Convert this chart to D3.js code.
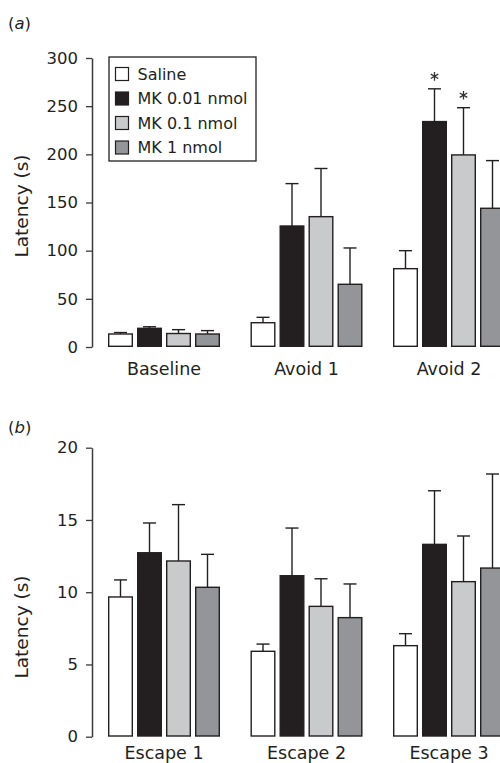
<!DOCTYPE html>
<html>
<head>
<meta charset="utf-8">
<script src="https://cdn.jsdelivr.net/npm/d3@7"></script>
<style>
  html, body { margin: 0; padding: 0; background: #fff; }
  svg { display: block; font-family: "DejaVu Sans", Verdana, sans-serif; }
</style>
</head>
<body>
<svg id="chart" width="500" height="763"></svg>
<script>
// Treatment groups (legend order)
const groups = ["Saline", "MK 0.01 nmol", "MK 0.1 nmol", "MK 1 nmol"];
const groupColors = ["#ffffff", "#231f20", "#c9cacc", "#939598"];

// Panel (a): avoidance latency (s), mean and SEM per phase
const phasesA = ["Baseline", "Avoid 1", "Avoid 2"];
const meansA = [
  [13.5, 19.4, 14.0, 13.5],
  [25.2, 125.6, 135.3, 65.1],
  [81.3, 234.0, 199.4, 144.0]
];
const semA = [
  [1.5, 1.6, 4.0, 3.5],
  [5.6, 44.0, 50.0, 37.7],
  [18.7, 34.0, 49.0, 49.5]
];
// significance markers: [phase index, group index]
const starsA = [[2, 1], [2, 2]];
const ticksA = [0, 50, 100, 150, 200, 250, 300];

// Panel (b): escape latency (s), mean and SEM per trial
const phasesB = ["Escape 1", "Escape 2", "Escape 3"];
const meansB = [
  [9.67, 12.73, 12.16, 10.34],
  [5.91, 11.14, 9.02, 8.24],
  [6.30, 13.31, 10.73, 11.67]
];
const semB = [
  [1.18, 2.06, 3.90, 2.28],
  [0.50, 3.30, 1.91, 2.33],
  [0.83, 3.71, 3.16, 6.51]
];
const starsB = [];
const ticksB = [0, 5, 10, 15, 20];

const svg = d3.select("#chart");
const ink = "#231f20";
const axisInk = "#3b3b3b";
const face = "'DejaVu Sans', Verdana, sans-serif";

function drawPanel(cfg) {
  const g = svg.append("g");

  const x0 = d3.scaleBand().domain(cfg.phases).range([108, 505]).paddingInner(0.214).paddingOuter(0);
  const x1 = d3.scaleBand().domain(groups).range([0, x0.bandwidth()]).paddingInner(0.138).paddingOuter(0);
  const y = d3.scaleLinear().domain(cfg.domain).range(cfg.yRange);

  // y axis
  const axis = d3.axisLeft(y).tickValues(cfg.ticks).tickSize(6).tickSizeOuter(0).tickPadding(8);
  const ag = g.append("g").attr("transform", "translate(92,0)").call(axis);
  ag.select(".domain").attr("stroke", axisInk).attr("stroke-width", 1.5);
  ag.selectAll(".tick line").attr("stroke", axisInk).attr("stroke-width", 1.3);
  ag.selectAll(".tick text")
    .attr("fill", ink)
    .style("font-size", "16.5px")
    .style("font-family", face);

  // axis title
  g.append("text")
    .attr("transform", `translate(21,${cfg.titleY}) rotate(-90)`)
    .attr("text-anchor", "middle")
    .attr("dominant-baseline", "central")
    .attr("fill", ink)
    .style("font-size", "18.5px")
    .text("Latency (s)");

  // panel letter
  const pl = g.append("text")
    .attr("x", 8).attr("y", cfg.letterY)
    .attr("fill", ink)
    .style("font-size", "16.5px");
  pl.append("tspan").text("(");
  pl.append("tspan").style("font-style", "italic").text(cfg.letter);
  pl.append("tspan").text(")");

  // bars grouped by phase
  cfg.phases.forEach((ph, i) => {
    const pg = g.append("g").attr("transform", `translate(${x0(ph)},0)`);
    const rows = groups.map((gr, j) => ({ gr, j, m: cfg.means[i][j], e: cfg.sem[i][j] }));

    // error bars (upper only)
    const eb = pg.selectAll("g.err").data(rows).join("g").attr("class", "err");
    eb.append("line")
      .attr("x1", d => x1(d.gr) + x1.bandwidth() / 2)
      .attr("x2", d => x1(d.gr) + x1.bandwidth() / 2)
      .attr("y1", d => y(d.m))
      .attr("y2", d => y(d.m + d.e))
      .attr("stroke", ink).attr("stroke-width", 1.4);
    eb.append("line")
      .attr("x1", d => x1(d.gr) + x1.bandwidth() / 2 - 6.5)
      .attr("x2", d => x1(d.gr) + x1.bandwidth() / 2 + 6.5)
      .attr("y1", d => y(d.m + d.e))
      .attr("y2", d => y(d.m + d.e))
      .attr("stroke", ink).attr("stroke-width", 1.4);

    pg.selectAll("rect.bar").data(rows).join("rect")
      .attr("class", "bar")
      .attr("x", d => x1(d.gr) + 0.7)
      .attr("width", x1.bandwidth() - 1.4)
      .attr("y", d => y(d.m))
      .attr("height", d => y(0) - y(d.m) - 0.7)
      .attr("fill", d => groupColors[d.j])
      .attr("stroke", ink)
      .attr("stroke-width", 1.4);

    // phase label
    g.append("text")
      .attr("x", x0(ph) + x0.bandwidth() / 2)
      .attr("y", cfg.labelY)
      .attr("text-anchor", "middle")
      .attr("fill", ink)
      .style("font-size", "17.5px")
      .text(ph);
  });

  // significance asterisks
  const star = d3.symbol().type(d3.symbolAsterisk).size(52);
  cfg.stars.forEach(([i, j]) => {
    const cx = x0(cfg.phases[i]) + x1(groups[j]) + x1.bandwidth() / 2;
    const top = y(cfg.means[i][j] + cfg.sem[i][j]);
    g.append("path")
      .attr("d", star())
      .attr("transform", `translate(${cx},${top - 12.5})`)
      .attr("fill", "none")
      .attr("stroke", "#333")
      .attr("stroke-width", 1.3);
  });

  return { x0, y };
}

drawPanel({
  phases: phasesA, means: meansA, sem: semA, stars: starsA,
  domain: [0, 300], yRange: [347, 58], ticks: ticksA,
  titleY: 206, letter: "a", letterY: 29, labelY: 375
});

drawPanel({
  phases: phasesB, means: meansB, sem: semB, stars: starsB,
  domain: [0, 20], yRange: [736.7, 447.7], ticks: ticksB,
  titleY: 627, letter: "b", letterY: 432.5, labelY: 758.5
});

// legend for treatment groups
const legend = svg.append("g").attr("transform", "translate(109,57)");
legend.append("rect")
  .attr("x", 0).attr("y", 0).attr("width", 147).attr("height", 104)
  .attr("fill", "#fff").attr("stroke", ink).attr("stroke-width", 1.3);
const li = legend.selectAll("g.item").data(groups).join("g")
  .attr("class", "item")
  .attr("transform", (d, i) => `translate(0,${17 + i * 24.5})`);
li.append("rect")
  .attr("x", 6.5).attr("y", -6.5).attr("width", 13).attr("height", 13)
  .attr("fill", (d, i) => groupColors[i])
  .attr("stroke", ink).attr("stroke-width", 1.2);
li.append("text")
  .attr("x", 28.5).attr("y", 0)
  .attr("dominant-baseline", "central")
  .attr("fill", ink)
  .style("font-size", "16px")
  .text(d => d);
</script>
</body>
</html>
